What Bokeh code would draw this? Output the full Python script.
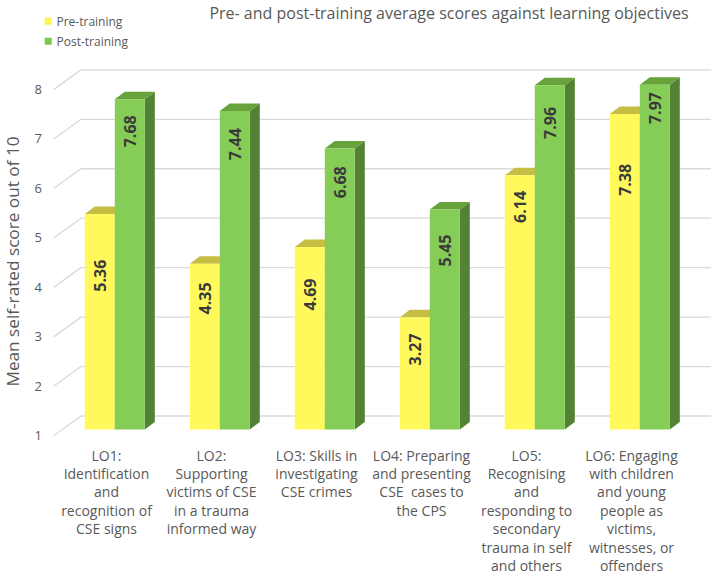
from math import pi

from bokeh.plotting import figure
from bokeh.models import Range1d, ColumnDataSource
from bokeh.embed import file_html
from bokeh.resources import INLINE
from bokeh.core.properties import value

# ---- data -------------------------------------------------------------
categories = [
    "LO1:\nIdentification\nand\nrecognition of\nCSE signs",
    "LO2:\nSupporting\nvictims of CSE\nin a trauma\ninformed way",
    "LO3: Skills in\ninvestigating\nCSE crimes",
    "LO4: Preparing\nand presenting\nCSE \u00a0cases to\nthe CPS",
    "LO5:\nRecognising\nand\nresponding to\nsecondary\ntrauma in self\nand others",
    "LO6: Engaging\nwith children\nand young\npeople as\nvictims,\nwitnesses, or\noffenders",
]
series_names = ["Pre-training", "Post-training"]
pre = [5.36, 4.35, 4.69, 3.27, 6.14, 7.38]
post = [7.68, 7.44, 6.68, 5.45, 7.96, 7.97]
y_ticks = [1, 2, 3, 4, 5, 6, 7, 8]

# where each value label sits along its bar (score units)
pre_label_at = [4.11, 3.65, 3.73, 2.62, 5.50, 6.05]
post_label_at = [7.03, 6.77, 6.00, 4.62, 7.20, 7.50]

# ---- layout constants ---------------------------------------------------
W, H = 714, 576
PX_X = 105.0      # pixels per category
PX_Y = 49.45      # pixels per score point
X0_PX = 114.3     # pixel x of the first group's centre
Y1_PX = 429.0     # pixel y of score 1 on the bars' front plane

BAR_W = 30.0 / PX_X
BAR_DX, BAR_DY = 10.0 / PX_X, 7.5 / PX_Y          # bar depth
WALL_DX, WALL_DY = 18.7 / PX_X, 13.5 / PX_Y       # back wall
FLOOR_DX, FLOOR_DY = -8.3 / PX_X, -6.0 / PX_Y     # front edge of floor
BASE = y_ticks[0]


def sx(px):
    return (px - X0_PX) / PX_X


def sy(py):
    return BASE + (Y1_PX - py) / PX_Y


FONT = value("Open Sans")
GREY = "#595959"

YEL_FRONT, YEL_TOP, YEL_SIDE = "#FFF95C", "#C6BE44", "#B5AE3A"
GRN_FRONT, GRN_TOP, GRN_SIDE = "#85CD56", "#67A23B", "#548235"

p = figure(
    width=W, height=H,
    x_range=Range1d(sx(0), sx(W)), y_range=Range1d(sy(H), sy(0)),
    min_border=0, x_axis_location=None, y_axis_location=None,
    toolbar_location=None, output_backend="svg", title=None,
    background_fill_color="white", border_fill_color="white",
    outline_line_color=None,
)
p.xgrid.visible = False
p.ygrid.visible = False

n = len(categories)

# ---- gridlines: front-floor diagonal, then along the back wall ----------
left = -0.5
gx, gy = [], []
for t in y_ticks:
    gx.append([left + FLOOR_DX, left + WALL_DX, left + n + WALL_DX])
    gy.append([t + FLOOR_DY, t + WALL_DY, t + WALL_DY])
p.multi_line(gx, gy, line_color="#D9D9D9", line_width=1.3)

# tick labels at the front of each diagonal
p.text(x=[left + FLOOR_DX - 12.0 / PX_X] * len(y_ticks),
       y=[t + FLOOR_DY for t in y_ticks],
       text=[str(t) for t in y_ticks],
       text_align="right", text_baseline="middle",
       text_font=FONT, text_font_size="13px", text_color=GREY)


# ---- 3D bars --------------------------------------------------------------
def bars(values, x_left, front, top, side, name):
    xl = list(x_left)
    xr = [a + BAR_W for a in xl]
    side_xs = [[r, r + BAR_DX, r + BAR_DX, r] for r in xr]
    side_ys = [[BASE, BASE + BAR_DY, v + BAR_DY, v] for v in values]
    p.patches(side_xs, side_ys, fill_color=side, line_color=None)
    top_xs = [[l, r, r + BAR_DX, l + BAR_DX] for l, r in zip(xl, xr)]
    top_ys = [[v, v, v + BAR_DY, v + BAR_DY] for v in values]
    p.patches(top_xs, top_ys, fill_color=top, line_color=None)
    src = ColumnDataSource(dict(left=xl, right=xr, top=values,
                                bottom=[BASE] * len(values)))
    p.quad(left="left", right="right", top="top", bottom="bottom",
           source=src, fill_color=front, line_color=None, name=name)


idx = list(range(n))
bars(pre, [i - BAR_W for i in idx], YEL_FRONT, YEL_TOP, YEL_SIDE, series_names[0])
bars(post, [i for i in idx], GRN_FRONT, GRN_TOP, GRN_SIDE, series_names[1])

# value labels, rotated, inside the bars
lab_font = dict(text_font=FONT, text_font_size="16px",
                text_font_style="bold", text_color="#3A3A3A",
                text_align="center", text_baseline="middle", angle=pi / 2)
p.text(x=[i - BAR_W / 2 for i in idx], y=pre_label_at,
       text=[f"{v:.2f}" for v in pre], **lab_font)
p.text(x=[i + BAR_W / 2 for i in idx], y=post_label_at,
       text=[f"{v:.2f}" for v in post], **lab_font)

# ---- category labels, one line at a time ---------------------------------
cx, cy, ct = [], [], []
for i, cat in enumerate(categories):
    for k, line in enumerate(cat.split("\n")):
        cx.append(i + FLOOR_DX)
        cy.append(sy(454.5 + 18.4 * k))
        ct.append(line)
p.text(x=cx, y=cy, text=ct, text_align="center", text_baseline="middle",
       text_font=FONT, text_font_size="14px", text_color=GREY)

# ---- axis title -------------------------------------------------------------
p.text(x=[sx(12)], y=[sy(261)], text=["Mean self-rated score out of 10"],
       angle=pi / 2, text_align="center", text_baseline="middle",
       text_font=FONT, text_font_size="17.2px", text_color=GREY)

# ---- chart title -----------------------------------------------------------
p.text(x=[sx(448.5)], y=[sy(12)],
       text=["Pre- and post-training average scores against learning objectives"],
       text_align="center", text_baseline="middle",
       text_font=FONT, text_font_size="16px", text_color=GREY)

# ---- legend ------------------------------------------------------------------
p.scatter(x=[sx(47.7)] * 2, y=[sy(20.7), sy(40.7)], marker="square", size=7,
          fill_color=["#FFF44F", "#7CC84E"], line_color=None)
p.text(x=[sx(56)] * 2, y=[sy(20.7), sy(40.7)], text=series_names,
       text_align="left", text_baseline="middle",
       text_font=FONT, text_font_size="12px", text_color=GREY)

open("out.html", "w").write(file_html(p, INLINE))
